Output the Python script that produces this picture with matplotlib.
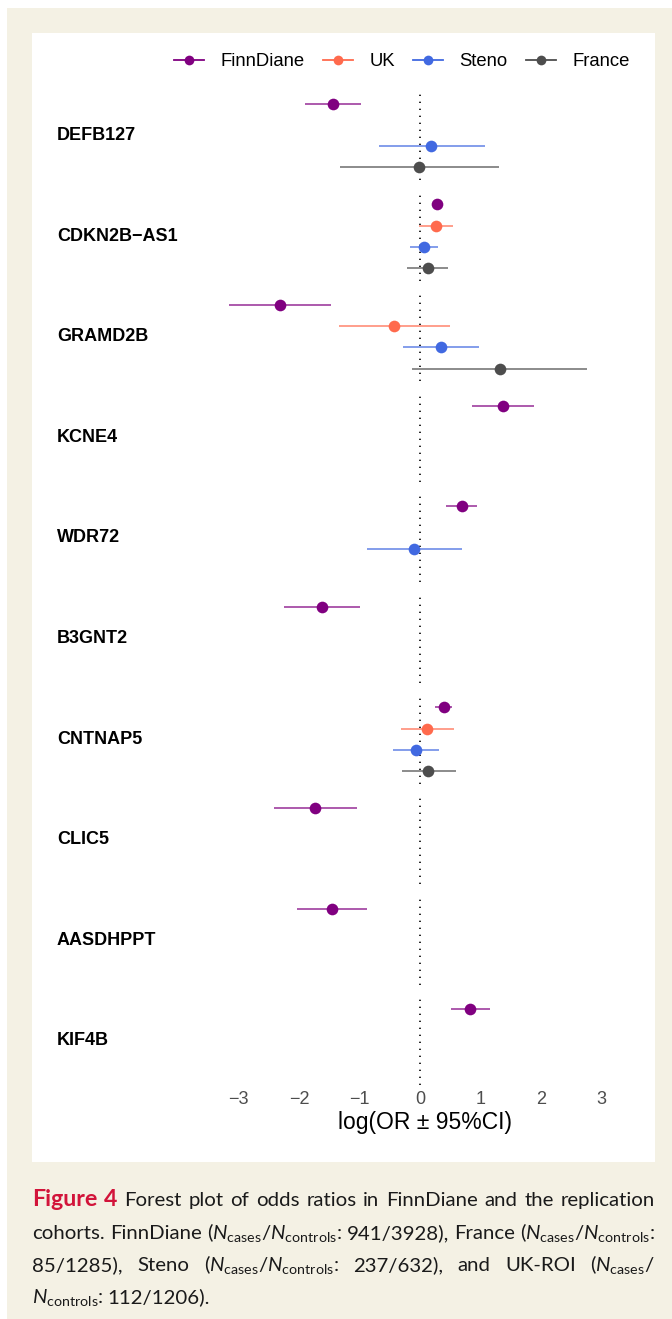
import numpy as np
import matplotlib
matplotlib.use("Agg")
import matplotlib.pyplot as plt
from matplotlib.lines import Line2D
from matplotlib.patches import Rectangle
from matplotlib.transforms import blended_transform_factory

plt.rcParams["font.family"] = ["Liberation Sans", "DejaVu Sans"]
plt.rcParams["mathtext.fontset"] = "custom"
plt.rcParams["mathtext.rm"] = "Lato"
plt.rcParams["mathtext.it"] = "Lato:italic"

# Genes (top to bottom) and log odds ratios with 95% CI per cohort
genes = ["DEFB127", "CDKN2B\u2212AS1", "GRAMD2B", "KCNE4", "WDR72",
         "B3GNT2", "CNTNAP5", "CLIC5", "AASDHPPT", "KIF4B"]
cohorts = ["FinnDiane", "UK", "Steno", "France"]
colors = ["#800080", "#FF6A4D", "#4169E1", "#4D4D4D"]
nan = np.nan

finn_est = [-1.44, 0.28, -2.32, 1.37, 0.69, -1.62, 0.39, -1.74, -1.45, 0.83]
finn_lo = [-1.91, 0.20, -3.16, 0.86, 0.43, -2.25, 0.25, -2.42, -2.03, 0.51]
finn_hi = [-0.97, 0.36, -1.48, 1.88, 0.95, -0.99, 0.53, -1.05, -0.87, 1.16]

uk_est = [nan, 0.26, -0.43, nan, nan, nan, 0.12, nan, nan, nan]
uk_lo = [nan, -0.02, -1.34, nan, nan, nan, -0.31, nan, nan, nan]
uk_hi = [nan, 0.55, 0.49, nan, nan, nan, 0.56, nan, nan, nan]

steno_est = [0.19, 0.07, 0.35, nan, -0.10, nan, -0.07, nan, nan, nan]
steno_lo = [-0.68, -0.17, -0.28, nan, -0.88, nan, -0.44, nan, nan, nan]
steno_hi = [1.08, 0.29, 0.97, nan, 0.69, nan, 0.31, nan, nan, nan]

france_est = [-0.02, 0.13, 1.32, nan, nan, nan, 0.14, nan, nan, nan]
france_lo = [-1.33, -0.21, -0.13, nan, nan, nan, -0.30, nan, nan, nan]
france_hi = [1.30, 0.46, 2.77, nan, nan, nan, 0.60, nan, nan, nan]

estimates = [finn_est, uk_est, steno_est, france_est]
lowers = [finn_lo, uk_lo, steno_lo, france_lo]
uppers = [finn_hi, uk_hi, steno_hi, france_hi]

xticks = [-3, -2, -1, 0, 1, 2, 3]

W, H = 672, 1319
fig = plt.figure(figsize=(W / 100, H / 100), dpi=100)
fig.patch.set_facecolor("white")


def fx(px):
    return px / W


def fy(py):
    return 1 - py / H


# page background and white figure panel
fig.add_artist(Rectangle((fx(7), 0), 1 - fx(7), fy(8), transform=fig.transFigure,
                         facecolor="#F4F1E4", edgecolor="none", zorder=-10))
fig.add_artist(Rectangle((fx(32), fy(1162)), fx(655) - fx(32), fy(33) - fy(1162),
                         transform=fig.transFigure, facecolor="white",
                         edgecolor="none", zorder=-9))

# one facet per gene, cohorts as rows
x_zero, px_per_unit = 420, 60.45
ax_left, ax_right = 200, 650
xlim = ((ax_left - x_zero) / px_per_unit, (ax_right - x_zero) / px_per_unit)
row_h, period, first_top = 21.2, 100.6, 91.0

axes = []
for i, gene in enumerate(genes):
    top = first_top + period * i
    ax = fig.add_axes([fx(ax_left), fy(top + 4.2 * row_h), fx(ax_right) - fx(ax_left),
                       4.2 * row_h / H])
    ax.set_xlim(*xlim)
    ax.set_ylim(3.6, -0.6)
    ax.axis("off")
    ax.axvline(0, color="black", lw=1.2, linestyle=(0, (0.8, 3.4)), zorder=1)
    for j, cohort in enumerate(cohorts):
        est = estimates[j][i]
        if np.isnan(est):
            continue
        ax.hlines(j, lowers[j][i], uppers[j][i], color=colors[j], lw=1.3,
                  alpha=0.7, zorder=2)
        ax.plot(est, j, "o", color=colors[j], markersize=8.4, zorder=3,
                markeredgewidth=0)
    tr = blended_transform_factory(fig.transFigure, ax.transData)
    ax.text(fx(57), 1.5, gene, transform=tr, ha="left", va="center",
            fontsize=13, fontweight="bold", color="black")
    axes.append(ax)

# x axis on the bottom facet
bottom = axes[-1]
bottom.axis("on")
for s in bottom.spines.values():
    s.set_visible(False)
bottom.set_yticks([])
bottom.set_xticks(xticks)
bottom.tick_params(axis="x", length=0, pad=4, labelsize=13, labelcolor="#4D4D4D")
bottom.set_xlabel("log(OR \u00b1 95%CI)", fontsize=16.5, labelpad=2)

# legend along the top
handles = [Line2D([], [], color=c, marker="o", markersize=7, lw=1.3,
                  markeredgewidth=0) for c in colors]
leg = fig.legend(handles, cohorts, loc="center", bbox_to_anchor=(fx(402), fy(62)),
                 ncol=4, frameon=False, fontsize=13.3, handlelength=1.6,
                 handletextpad=0.9, columnspacing=1.0)

# caption, justified line by line
renderer = fig.canvas.get_renderer()
cap_size = 14.7
red = "#D2143A"
body = dict(fontsize=cap_size, family="Lato", color="#1A1A1A")
bold_red = dict(fontsize=cap_size + 2, family="Lato", fontweight="bold", color=red)
ncase = r"$N_{\mathrm{cases}}$"
nctrl = r"$N_{\mathrm{controls}}$"

cap_lines = [
    [("Figure", bold_red), ("4", bold_red), ("Forest", body), ("plot", body),
     ("of", body), ("odds", body), ("ratios", body), ("in", body),
     ("FinnDiane", body), ("and", body), ("the", body), ("replication", body)],
    [("cohorts.", body), ("FinnDiane", body), ("(" + ncase + "/" + nctrl + ":", body),
     ("941/3928),", body), ("France", body), ("(" + ncase + "/" + nctrl + ":", body)],
    [("85/1285),", body), ("Steno", body), ("(" + ncase + "/" + nctrl + ":", body),
     ("237/632),", body), ("and", body), ("UK-ROI", body), ("(" + ncase + "/", body)],
    [(nctrl + ":", body), ("112/1206).", body)],
]
baselines = [1206, 1239, 1271, 1303]
cap_left, cap_right = 32, 655

for k, (tokens, yb) in enumerate(zip(cap_lines, baselines)):
    texts = [fig.text(0, fy(yb), s, va="baseline", ha="left", **kw) for s, kw in tokens]
    widths = [t.get_window_extent(renderer).width for t in texts]
    if k < len(cap_lines) - 1:
        gap = (cap_right - cap_left - sum(widths)) / (len(texts) - 1)
    else:
        gap = 4.0
    x = cap_left
    for t, w in zip(texts, widths):
        t.set_x(fx(x))
        x += w + gap

fig.savefig("out.png", dpi=100, facecolor=fig.get_facecolor())
